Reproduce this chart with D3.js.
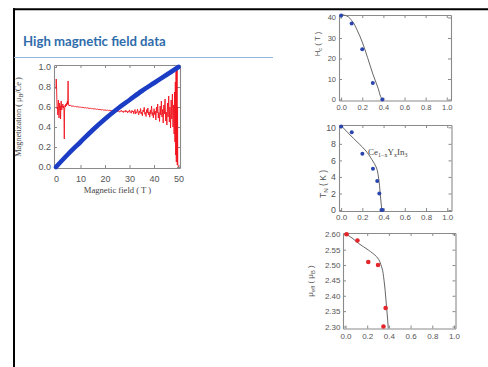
<!DOCTYPE html>
<html>
<head>
<meta charset="utf-8">
<script src="https://cdn.jsdelivr.net/npm/d3@7"></script>
<style>
  body { margin: 0; background: #fff; }
  svg { display: block; }
</style>
</head>
<body>
<div id="chart"></div>
<script>
// Magnetization vs field (left panel)
const blueField = [0, 5, 10, 15, 20, 25, 30, 35, 40, 45, 50];
const blueMag = [0, 0.13, 0.25, 0.37, 0.48, 0.58, 0.67, 0.76, 0.84, 0.92, 1.0];

// red trace: [field, value]
const redTrace = [
  [0.0,0.78],[0.12,0.88],[0.25,0.8],[0.38,0.66],[0.5,0.58],[0.62,0.6],[0.75,0.52],[0.88,0.62],
  [1.0,0.67],[1.12,0.59],[1.25,0.49],[1.38,0.6],[1.5,0.64],[1.62,0.57],[1.75,0.61],[1.88,0.48],
  [2.0,0.6],[2.12,0.66],[2.25,0.62],[2.38,0.57],[2.5,0.61],[2.65,0.6],[2.8,0.63],[2.95,0.59],
  [3.1,0.61],[3.25,0.58],[3.4,0.28],[3.5,0.55],[3.6,0.6],[3.75,0.62],[3.9,0.6],[4.05,0.63],
  [4.2,0.61],[4.35,0.64],[4.5,0.62],[4.65,0.66],[4.8,0.63],[4.95,0.86],[5.05,0.65],[5.2,0.62],
  [5.4,0.61],[5.6,0.62],[5.8,0.61],[6.0,0.615],
  [6.5,0.607],[7,0.611],[7.5,0.604],[8,0.606],[8.5,0.601],[9,0.603],[9.5,0.598],[10,0.6],
  [10.5,0.595],[11,0.597],[11.5,0.591],[12,0.594],[12.5,0.589],[13,0.591],[13.5,0.585],[14,0.588],
  [14.5,0.583],[15,0.585],[15.5,0.579],[16,0.582],[16.5,0.577],[17,0.579],[17.5,0.573],[18,0.576],
  [18.5,0.571],[19,0.574],[19.5,0.568],[20,0.571],[20.5,0.566],[21,0.569],[21.5,0.563],[22,0.567],
  [22.5,0.561],[23,0.565],[23.5,0.558],[24,0.563],[24.5,0.556],
  [25.0,0.56],[25.25,0.553],[25.5,0.564],[25.75,0.556],[26,0.548],[26.25,0.561],[26.5,0.557],[26.75,0.566],
  [27,0.55],[27.25,0.556],[27.5,0.545],[27.75,0.562],[28,0.555],[28.25,0.549],[28.5,0.568],[28.75,0.552],
  [29,0.558],[29.25,0.541],[29.5,0.56],[29.75,0.553],[30,0.571],[30.25,0.546],[30.5,0.553],[30.75,0.538],
  [31,0.566],[31.25,0.55],[31.5,0.56],[31.75,0.532],[32,0.557],
  [32.25,0.575],[32.5,0.53],[32.75,0.552],[33,0.543],[33.25,0.578],[33.5,0.549],[33.75,0.521],[34,0.56],
  [34.25,0.542],[34.5,0.585],[34.75,0.53],[35,0.548],[35.25,0.512],[35.5,0.57],[35.75,0.553],[36,0.597],
  [36.25,0.528],[36.5,0.545],[36.75,0.505],[37,0.574],[37.25,0.541],[37.5,0.59],[37.75,0.52],[38,0.55],
  [38.25,0.498],[38.5,0.568],[38.75,0.532],[39,0.61],[39.25,0.515],[39.5,0.546],[39.75,0.49],[40,0.583],
  [40.25,0.525],[40.5,0.56],[40.75,0.47],[41,0.6],[41.25,0.54],[41.5,0.63],[41.75,0.49],[42,0.545],
  [42.25,0.455],[42.5,0.61],[42.75,0.52],[43,0.66],[43.25,0.5],[43.5,0.575],[43.75,0.44],[44,0.62],
  [44.25,0.53],[44.5,0.68],[44.75,0.46],[45,0.55],[45.25,0.42],[45.5,0.64],[45.75,0.5],[46,0.71],
  [46.25,0.45],[46.5,0.6],[46.75,0.39],[47,0.67],[47.25,0.48],[47.5,0.73],[47.75,0.4],[48,0.62],
  [48.2,0.33],[48.4,0.75],[48.55,0.25],[48.7,0.85],[48.85,0.12],[49.0,0.95],[49.1,0.05],[49.2,1.0],
  [49.3,0.1],[49.4,0.97],[49.5,0.02],[49.6,0.6],[49.7,0.03],[49.85,0.01],[50,0.0]
];

const magTicksX = [0, 10, 20, 30, 40, 50];
const magTicksY = [0, 0.2, 0.4, 0.6, 0.8, 1.0];

// Right panels: x = Y concentration
const concTicks = [0, 0.2, 0.4, 0.6, 0.8, 1.0];

const hcX = [0, 0.1, 0.2, 0.3, 0.39];
const hcY = [41, 37, 24.5, 8, 0];
const hcFitX = [0, 0.05, 0.1, 0.15, 0.2, 0.25, 0.3, 0.35, 0.39, 0.4];
const hcFitY = [41.5, 40.8, 38.5, 34, 28, 20.5, 12.5, 5.5, 0, -0.5];
const hcTicks = [0, 10, 20, 30, 40];

const tnX = [0, 0.1, 0.2, 0.3, 0.34, 0.36, 0.38, 0.39];
const tnY = [10.1, 9.4, 6.8, 5.0, 3.5, 2.0, 0, 0];
const tnFitX = [0, 0.06, 0.116, 0.17, 0.226, 0.29, 0.33, 0.352, 0.368, 0.384];
const tnFitY = [10.2, 9.4, 8.67, 8.0, 7.26, 6.1, 5.2, 4.0, 2.0, -0.1];
const tnTicks = [0, 2, 4, 6, 8, 10];

const muX = [0.01, 0.11, 0.21, 0.3, 0.37, 0.35];
const muY = [2.60, 2.58, 2.51, 2.50, 2.36, 2.30];
const muFitX = [0.004, 0.06, 0.118, 0.21, 0.287, 0.333, 0.355, 0.373, 0.389, 0.394];
const muFitY = [2.601, 2.588, 2.571, 2.549, 2.527, 2.494, 2.451, 2.386, 2.321, 2.294];
const muTicks = [2.30, 2.35, 2.40, 2.45, 2.50, 2.55, 2.60];

const W = 488, H = 367;
const svg = d3.select("#chart").append("svg")
  .attr("width", W).attr("height", H)
  .style("background", "#fff");

// slide frame
svg.append("line").attr("x1", 14).attr("x2", 14).attr("y1", 8.3).attr("y2", H)
  .attr("stroke", "#000").attr("stroke-width", 2);
svg.append("line").attr("x1", 13).attr("x2", W).attr("y1", 9.3).attr("y2", 9.3)
  .attr("stroke", "#000").attr("stroke-width", 2);

// title
svg.append("text").attr("x", 23).attr("y", 45.5)
  .attr("font-family", "Lato, 'Open Sans', sans-serif")
  .attr("font-weight", "bold").attr("font-size", 13.2)
  .attr("fill", "#2f6cab")
  .text("High magnetic field data");
svg.append("line").attr("x1", 14).attr("x2", 273).attr("y1", 57.5).attr("y2", 57.5)
  .attr("stroke", "#95b7df").attr("stroke-width", 1.2);

const frameColor = "#8a8a8a";
const labelColor = "#555";

function styleAxis(g, fontSize, family) {
  g.select(".domain").attr("stroke", frameColor);
  g.selectAll(".tick line").attr("stroke", frameColor);
  g.selectAll(".tick text").attr("fill", labelColor)
    .attr("font-size", fontSize)
    .attr("font-family", family || "'Liberation Sans', Arial, sans-serif");
}

// generic framed panel with inward ticks on all sides
function framedAxes(x, y, xt, yt, opt) {
  const [x0, x1] = x.range();
  const [y0, y1] = y.range(); // y0 bottom, y1 top
  const g = svg.append("g");
  g.append("g").attr("transform", `translate(0,${y0})`)
    .call(d3.axisBottom(x).tickValues(xt).tickFormat(opt.fmtX).tickSizeInner(-3).tickSizeOuter(0).tickPadding(opt.padX))
    .call(a => styleAxis(a, opt.fs));
  g.append("g").attr("transform", `translate(0,${y1})`)
    .call(d3.axisTop(x).tickValues(xt).tickFormat("").tickSizeInner(-3).tickSizeOuter(0))
    .call(a => styleAxis(a, opt.fs));
  g.append("g").attr("transform", `translate(${x0},0)`)
    .call(d3.axisLeft(y).tickValues(yt).tickFormat(opt.fmtY).tickSizeInner(-3).tickSizeOuter(0).tickPadding(opt.padY))
    .call(a => styleAxis(a, opt.fsY || opt.fs));
  g.append("g").attr("transform", `translate(${x1},0)`)
    .call(d3.axisRight(y).tickValues(yt).tickFormat("").tickSizeInner(-3).tickSizeOuter(0))
    .call(a => styleAxis(a, opt.fs));
  g.selectAll(".domain").attr("stroke-width", 1.1);
  return g;
}

// ---------- left panel ----------
const mx = d3.scaleLinear().domain([-0.8, 50.6]).range([54, 180]);
const my = d3.scaleLinear().domain([-0.01, 1.02]).range([168, 65]);

framedAxes(mx, my, magTicksX, magTicksY, {
  fmtX: d3.format("d"), fmtY: d3.format(".1f"), padX: 7.5, padY: 3, fs: 9
});

svg.append("path").datum(redTrace)
  .attr("fill", "none").attr("stroke", "#f0141e").attr("stroke-width", 0.9)
  .attr("stroke-linejoin", "round")
  .attr("d", d3.line().x(d => mx(d[0])).y(d => my(d[1])));

svg.append("path").datum(d3.zip(blueField, blueMag))
  .attr("fill", "none").attr("stroke", "#1b3cc4").attr("stroke-width", 4.6)
  .attr("stroke-linecap", "round")
  .attr("d", d3.line().curve(d3.curveMonotoneX).x(d => mx(d[0])).y(d => my(d[1])));

const serif = "'Liberation Serif', 'DejaVu Serif', serif";
const ylab = svg.append("text")
  .attr("transform", "translate(21,117) rotate(-90)")
  .attr("text-anchor", "middle").attr("font-family", serif)
  .attr("font-size", 8.3).attr("fill", "#444");
ylab.append("tspan").text("Magnetization ( μ");
ylab.append("tspan").attr("font-size", 6).attr("dy", 2).text("B");
ylab.append("tspan").attr("dy", -2).text("/Ce )");

svg.append("text").attr("x", 117.5).attr("y", 192.5)
  .attr("text-anchor", "middle").attr("font-family", serif)
  .attr("font-size", 8.6).attr("fill", "#444")
  .text("Magnetic field ( T )");

// ---------- right panels ----------
function panel(cfg) {
  const x = d3.scaleLinear().domain(cfg.xd).range(cfg.xr);
  const y = d3.scaleLinear().domain(cfg.yd).range(cfg.yr);
  framedAxes(x, y, concTicks, cfg.yt, {
    fmtX: d3.format(".1f"), fmtY: cfg.fmtY, padX: cfg.padX, padY: cfg.padY, fs: cfg.fs, fsY: cfg.fsY
  });
  svg.append("path").datum(d3.zip(cfg.fitX, cfg.fitY))
    .attr("fill", "none").attr("stroke", "#666").attr("stroke-width", 1)
    .attr("d", d3.line().curve(d3.curveMonotoneY).x(d => x(d[0])).y(d => y(d[1])));
  svg.append("g").selectAll("circle").data(d3.zip(cfg.px, cfg.py)).enter()
    .append("circle")
    .attr("cx", d => x(d[0])).attr("cy", d => y(d[1]))
    .attr("r", cfg.r).attr("fill", cfg.color);
  const t = svg.append("text")
    .attr("transform", `translate(${cfg.lab[0]},${cfg.lab[1]}) rotate(-90)`)
    .attr("text-anchor", "middle")
    .attr("font-family", "'Liberation Sans', Arial, sans-serif")
    .attr("font-size", cfg.labFs).attr("fill", "#555");
  cfg.labParts.forEach(p => {
    const s = t.append("tspan").text(p[0]);
    if (p[1] === "sub") s.attr("font-size", cfg.labFs * 0.72).attr("dy", 2);
    if (p[1] === "up") s.attr("dy", -2);
  });
  return { x, y };
}

panel({
  xd: [-0.02, 1.04], xr: [339, 451], yd: [-0.49, 41.2], yr: [100.5, 15],
  yt: hcTicks, fmtY: d3.format("d"), padX: 4.5, padY: 3, fs: 7.5,
  fitX: hcFitX, fitY: hcFitY, px: hcX, py: hcY, r: 2, color: "#2a45ad",
  lab: [320, 44], labFs: 7.8, labParts: [["H"], ["c", "sub"], [" ( T )", "up"]]
});

panel({
  xd: [-0.02, 1.04], xr: [339, 451.5], yd: [-0.12, 10.28], yr: [211, 125],
  yt: tnTicks, fmtY: d3.format("d"), padX: 3, padY: 3, fs: 8, fsY: 8.8,
  fitX: tnFitX, fitY: tnFitY, px: tnX, py: tnY, r: 2, color: "#2a45ad",
  lab: [326, 184], labFs: 8.5, labParts: [["T"], ["N", "sub"], [" ( K )", "up"]]
});

const ce = svg.append("text").attr("x", 368).attr("y", 155)
  .attr("font-family", serif).attr("font-size", 9).attr("fill", "#444");
ce.append("tspan").text("Ce");
ce.append("tspan").attr("font-size", 6).attr("dy", 2).text("1−x");
ce.append("tspan").attr("dy", -2).text("Y");
ce.append("tspan").attr("font-size", 6).attr("dy", 2).text("x");
ce.append("tspan").attr("dy", -2).text("In");
ce.append("tspan").attr("font-size", 6).attr("dy", 2).text("3");

panel({
  xd: [-0.023, 1.014], xr: [343, 455.5], yd: [2.2935, 2.6042], yr: [328.5, 233],
  yt: muTicks, fmtY: d3.format(".2f"), padX: 5, padY: 2.5, fs: 8,
  fitX: muFitX, fitY: muFitY, px: muX, py: muY, r: 2.3, color: "#e3262b",
  lab: [313, 281], labFs: 8, labParts: [["μ"], ["eff", "sub"], ["  ( μ", "up"], ["B", "sub"], [" )", "up"]]
});
</script>
</body>
</html>
